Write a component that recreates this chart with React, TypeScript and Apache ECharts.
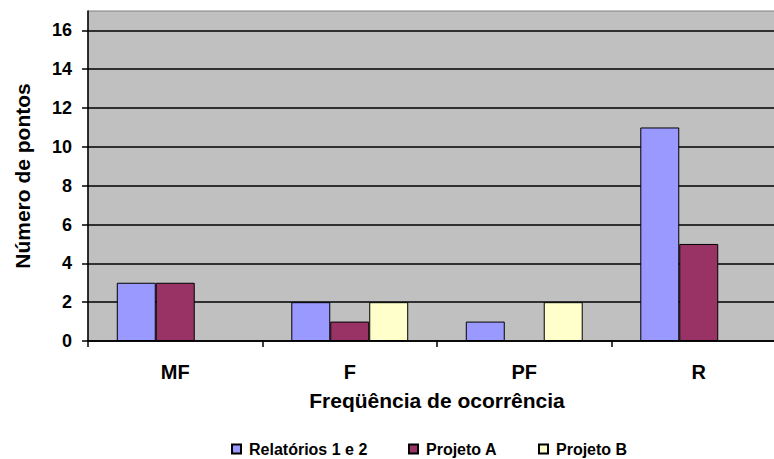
import React, { useEffect, useRef } from "react";
import * as echarts from "echarts";

const categories = ["MF", "F", "PF", "R"];
const relatorios = [3, 2, 1, 11];
const projetoA: (number | string)[] = [3, 1, "-", 5];
const projetoB: (number | string)[] = ["-", 2, 2, "-"];
const seriesNames = ["Relatórios 1 e 2", "Projeto A", "Projeto B"];
const seriesColors = ["#9999FF", "#993366", "#FFFFCC"];

const FONT = "'Liberation Sans', Arial, sans-serif";

export default function App() {
  const ref = useRef<HTMLDivElement>(null);
  useEffect(() => {
    if (!ref.current) return;
    const chart = echarts.init(ref.current, null, { renderer: "svg" });
    const values = [relatorios, projetoA, projetoB];
    const legendLefts = [226, 403, 533];
    chart.setOption({
      animation: false,
      backgroundColor: "#FFFFFF",
      textStyle: { fontFamily: FONT },
      grid: {
        left: 88,
        top: 11,
        right: -12,
        bottom: 118,
        containLabel: false,
        outerBoundsMode: "none",
        show: true,
        backgroundColor: "#C0C0C0",
        borderColor: "#808080",
        borderWidth: 1,
      },
      legend: seriesNames.map((n, i) => ({
        data: [n],
        left: legendLefts[i],
        top: 436,
        itemWidth: 9,
        itemHeight: 9,
        itemGap: 0,
        icon: "rect",
        textStyle: {
          fontFamily: FONT,
          fontWeight: "bold",
          fontSize: 16,
          color: "#000",
          padding: [0, 0, 0, 3],
        },
      })),
      xAxis: {
        type: "category",
        data: categories,
        name: "Freqüência de ocorrência",
        nameLocation: "middle",
        nameGap: 49,
        nameTextStyle: { fontFamily: FONT, fontWeight: "bold", fontSize: 21, color: "#000" },
        axisLine: { lineStyle: { color: "#000", width: 1.5 } },
        axisTick: { show: true, length: 6, inside: false, lineStyle: { color: "#000", width: 1.5 } },
        axisLabel: { fontFamily: FONT, fontWeight: "bold", fontSize: 20, color: "#000", margin: 21 },
        splitLine: { show: false },
      },
      yAxis: {
        type: "value",
        min: 0,
        max: 17,
        interval: 2,
        name: "Número de pontos",
        nameLocation: "middle",
        nameGap: 55,
        nameRotate: 90,
        nameTextStyle: { fontFamily: FONT, fontWeight: "bold", fontSize: 21, color: "#000" },
        axisLine: { show: true, lineStyle: { color: "#000", width: 1.5 } },
        axisTick: { show: true, length: 6, inside: false, lineStyle: { color: "#000", width: 1.5 } },
        axisLabel: { fontFamily: FONT, fontWeight: "bold", fontSize: 18, color: "#000", margin: 16, showMaxLabel: false },
        splitLine: { show: true, showMaxLine: false, lineStyle: { color: "#000", width: 1.5 } },
      },
      series: seriesNames.map((n, i) => ({
        name: n,
        type: "bar",
        data: values[i],
        barGap: "0%",
        barCategoryGap: "33%",
        itemStyle: { color: seriesColors[i], borderColor: "#000", borderWidth: 1 },
      })),
    });
    return () => chart.dispose();
  }, []);
  return (
    <div
      ref={ref}
      style={{ position: "fixed", left: 0, top: 0, width: 774, height: 459, overflow: "hidden" }}
    />
  );
}
